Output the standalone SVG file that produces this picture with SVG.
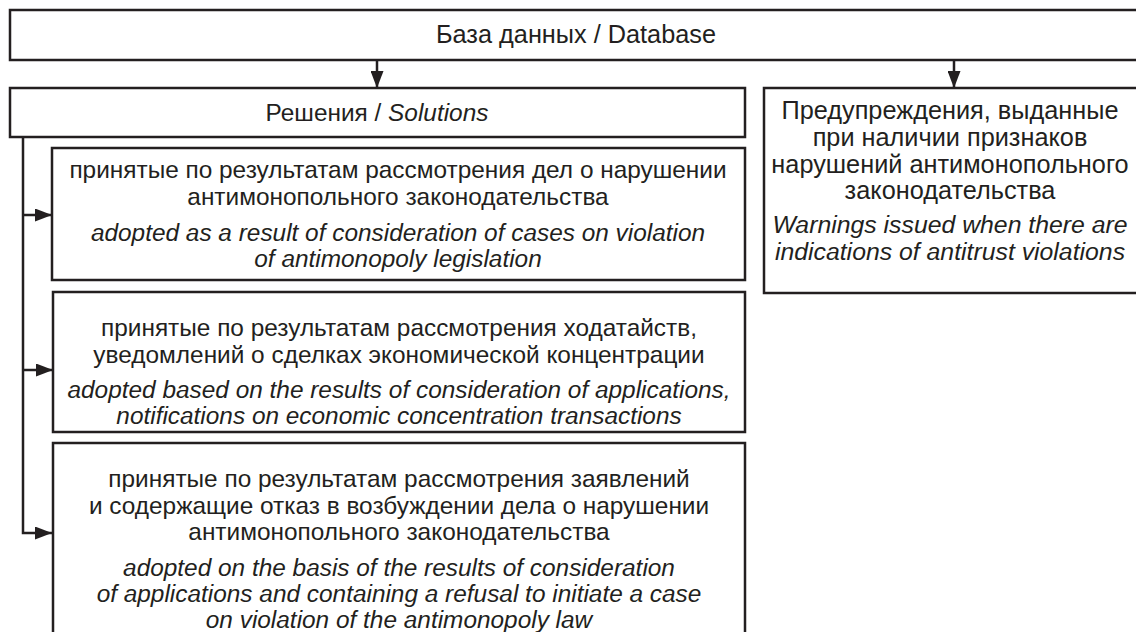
<svg xmlns="http://www.w3.org/2000/svg" width="1136" height="632" viewBox="0 0 1136 632">
<defs>
<style>
.box{fill:#fff;stroke:#231f20;stroke-width:2.5}
.ln{fill:none;stroke:#231f20;stroke-width:2.5}
text{font-family:"Liberation Sans",Arial,sans-serif;font-size:24.4px;fill:#231f20;text-anchor:middle}
.it{font-style:italic}
.lg{font-size:25.3px}
.wi{font-size:24.8px}
</style>
<marker id="ah" markerUnits="userSpaceOnUse" markerWidth="17" markerHeight="13" refX="17" refY="6.5" orient="auto">
<path d="M0,0 L17,6.5 L0,13 Z" fill="#231f20"/>
</marker>
</defs>
<g id="connectors">
<line class="ln" x1="377" y1="60" x2="377" y2="88" marker-end="url(#ah)"/>
<line class="ln" x1="954" y1="60" x2="954" y2="88" marker-end="url(#ah)"/>
<polyline class="ln" points="23,137 23,533 52,533" marker-end="url(#ah)"/>
<line class="ln" x1="23" y1="215" x2="52" y2="215" marker-end="url(#ah)"/>
<line class="ln" x1="23" y1="370" x2="53" y2="370" marker-end="url(#ah)"/>
</g>
<g id="database">
<rect class="box" x="10" y="10" width="1134" height="50"/>
<text class="lg" x="576" y="43">База данных / Database</text>
</g>
<g id="solutions">
<rect class="box" x="10" y="88" width="735" height="49"/>
<text x="377" y="121">Решения / <tspan class="it">Solutions</tspan></text>
</g>
<g id="warnings">
<rect class="box" x="764" y="88" width="380" height="205"/>
<text class="lg" x="950" y="119">Предупреждения, выданные</text>
<text class="lg" x="950" y="146">при наличии признаков</text>
<text class="lg" x="950" y="173">нарушений антимонопольного</text>
<text class="lg" x="950" y="199">законодательства</text>
<text class="it wi" x="950" y="233">Warnings issued when there are</text>
<text class="it wi" x="950" y="260">indications of antitrust violations</text>
</g>
<g id="decision1">
<rect class="box" x="52" y="148" width="693" height="132"/>
<text x="398" y="178">принятые по результатам рассмотрения дел о нарушении</text>
<text x="398" y="205">антимонопольного законодательства</text>
<text class="it" x="398" y="241">adopted as a result of consideration of cases on violation</text>
<text class="it" x="398" y="267">of antimonopoly legislation</text>
</g>
<g id="decision2">
<rect class="box" x="53" y="292" width="692" height="140"/>
<text x="399" y="336">принятые по результатам рассмотрения ходатайств,</text>
<text x="399" y="363">уведомлений о сделках экономической концентрации</text>
<text class="it" x="399" y="398">adopted based on the results of consideration of applications,</text>
<text class="it" x="399" y="424">notifications on economic concentration transactions</text>
</g>
<g id="decision3">
<rect class="box" x="53" y="443" width="692" height="200"/>
<text x="399" y="487">принятые по результатам рассмотрения заявлений</text>
<text x="399" y="514">и содержащие отказ в возбуждении дела о нарушении</text>
<text x="399" y="540">антимонопольного законодательства</text>
<text class="it" x="399" y="576">adopted on the basis of the results of consideration</text>
<text class="it" x="399" y="602">of applications and containing a refusal to initiate a case</text>
<text class="it" x="399" y="628">on violation of the antimonopoly law</text>
</g>
</svg>
